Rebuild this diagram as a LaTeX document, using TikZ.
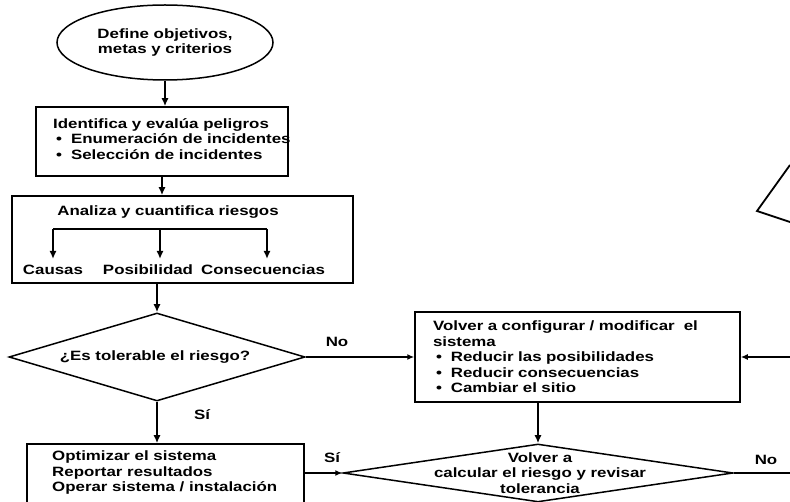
\documentclass[tikz,border=0pt]{standalone}
\usepackage{fontspec}
\newfontfamily\diafont[FakeStretch=1.25]{Liberation Sans Bold}
\usetikzlibrary{shapes.geometric,arrows.meta}

\newcommand{\itm}{\hspace*{3pt}\textbullet\hspace{9pt}}

\begin{document}
\begin{tikzpicture}[x=1pt,y=-1pt,
	font=\diafont\fontsize{13.5}{15.5}\selectfont,
	box/.style={draw,line width=1.5pt,rectangle,inner sep=0pt},
	rombo/.style={draw,line width=1.5pt,diamond,inner sep=0pt},
	txt/.style={inner sep=0pt},
	arr/.style={-{Latex[length=8pt,width=7pt]},line width=1.8pt},
	harr/.style={-{Latex[length=7pt,width=6pt]},line width=1.4pt},
	lin/.style={line width=1.4pt}]

\useasboundingbox (0,0) rectangle (790,502);
\clip (0,0) rectangle (790,502);

\coordinate (O) at (165,42.5);
\coordinate (I) at (162,141.5);
\coordinate (A) at (182.5,239.5);
\coordinate (T) at (157,357);
\coordinate (V) at (577.5,357);
\coordinate (C) at (538,473);
\coordinate (P) at (165.5,478);

\coordinate (br1) at (53,229);
\coordinate (br2) at (160,229);
\coordinate (br3) at (267,229);
\coordinate (tip1) at (53,259);
\coordinate (tip2) at (160,259);
\coordinate (tip3) at (267,259);

\coordinate (inR) at (790,357);
\coordinate (outR) at (790,473);

% inicio
\node[draw,line width=1.5pt,ellipse,minimum width=216pt,minimum height=75pt,
	align=center,inner sep=0pt] (obj) at (O) {Define objetivos,\\metas y criterios};

% peligros
\node[box,minimum width=252pt,minimum height=69pt] (ident) at (I) {};
\node[txt,anchor=west,align=left] (identt) at (53,139)
	{Identifica y evalúa peligros\\
	\itm Enumeración de incidentes\\
	\itm Selección de incidentes};

% riesgos
\node[box,minimum width=341pt,minimum height=87pt] (anal) at (A) {};
\node[txt] (analt) at (168,212) {Analiza y cuantifica riesgos};
\node[txt] (causas) at (53,270) {Causas};
\node[txt] (posib) at (148,270) {Posibilidad};
\node[txt] (conse) at (263,270) {Consecuencias};

\draw[lin] (br1) -- (br3);
\foreach \i in {1,2,3}
	\draw[arr] (br\i) -- (tip\i);

% decision 1
\node[rombo,minimum width=296pt,minimum height=88pt] (tol) at (T) {};
\node[txt] (tolt) at (155,357) {¿Es tolerable el riesgo?};

% reconfigurar
\node[box,minimum height=90pt,inner xsep=18pt,text width=289pt,align=left] (volv) at (V)
	{Volver a configurar / modificar ~el\\
	sistema\\
	\itm Reducir las posibilidades\\
	\itm Reducir consecuencias\\
	\itm Cambiar el sitio};

% decision 2
\node[rombo,minimum width=390pt,minimum height=58pt] (calc) at (C) {};
\node[txt,align=center] (calct) at (540,473)
	{Volver a\\calcular el riesgo y revisar\\tolerancia};

% fin
\node[box,minimum width=277pt,minimum height=68pt] (opt) at (P) {};
\node[txt,anchor=west,align=left] (optt) at (52,473)
	{Optimizar el sistema\\Reportar resultados\\Operar sistema / instalación};

% flechas
\draw[arr] (obj.south) -- (obj.south |- ident.north);
\draw[arr] (ident.south) -- (ident.south |- anal.north);
\draw[arr] (tol.north |- anal.south) -- (tol.north);
\draw[arr] (tol.south) -- (tol.south |- opt.north);
\draw[arr] (calc.north |- volv.south) -- (calc.north);
\draw[harr] (tol.east) -- (volv.west);
\draw[harr] (inR) -- (volv.east);
\draw[harr] (opt.east |- calc.west) -- (calc.west);
\draw[lin] (calc.east) -- (outR);

\node[txt] (no1) at (337,342) {No};
\node[txt] (si1) at (202,415) {Sí};
\node[txt] (si2) at (332,458) {Sí};
\node[txt] (no2) at (766,460) {No};

% figura cortada
\draw[line width=1.8pt] (790,165) -- (757,211) -- (790,222);

\end{tikzpicture}
\end{document}
